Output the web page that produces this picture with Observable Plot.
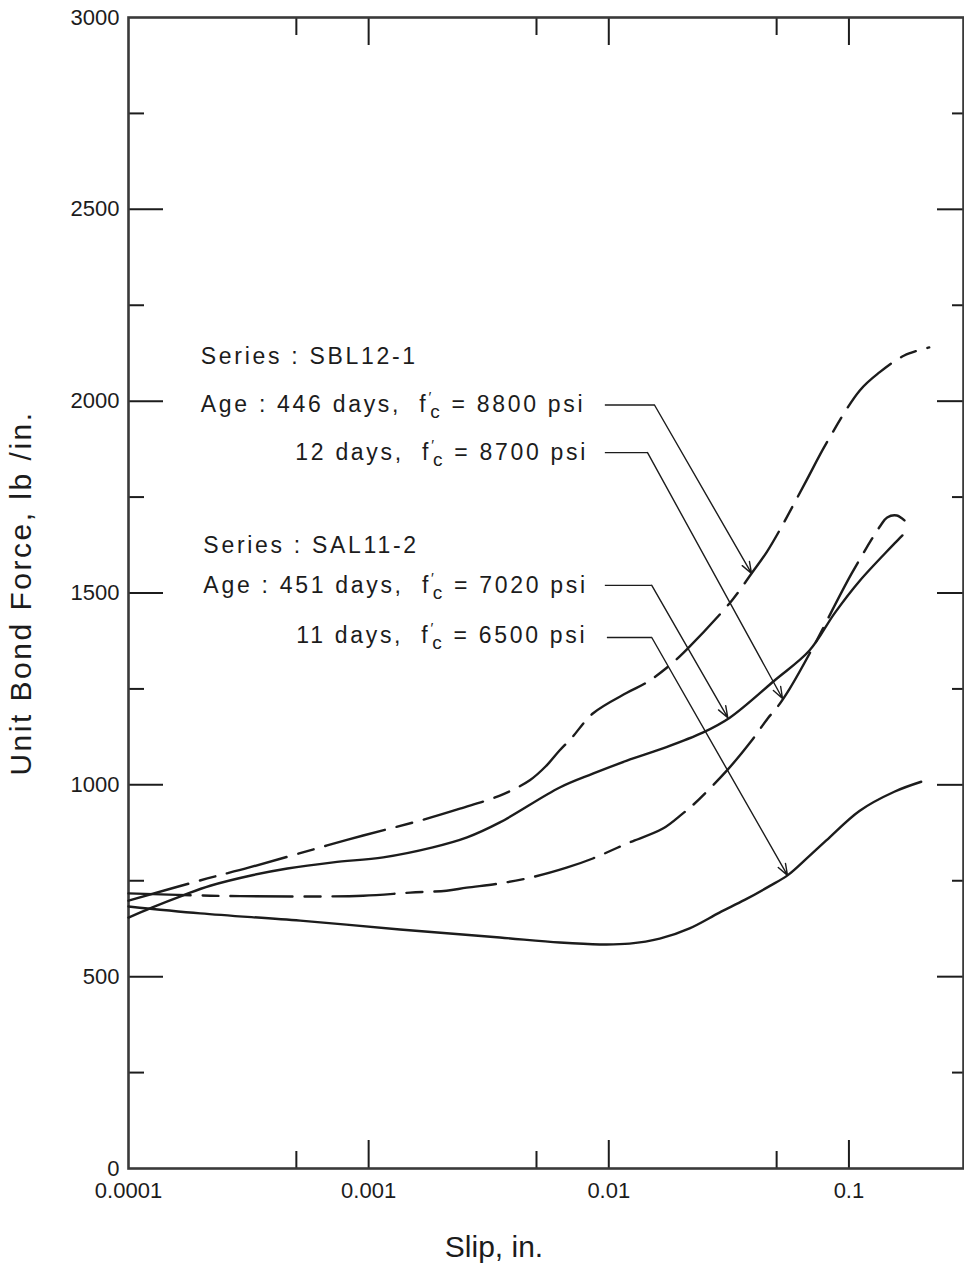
<!DOCTYPE html>
<html>
<head>
<meta charset="utf-8">
<script src="https://cdn.jsdelivr.net/npm/d3@7"></script>
<script src="https://cdn.jsdelivr.net/npm/@observablehq/plot@0.6"></script>
<style>
  html, body { margin: 0; padding: 0; background: #fff; }
</style>
</head>
<body>
<div id="chart"></div>
<script>
// Slip (in.) and unit bond force (lb/in.) along each load–slip curve.
// Series SBL12-1, age 446 days (dashed, upper)
const slipSBL446 = [0.0001, 0.000213, 0.000316, 0.000672, 0.000949, 0.00164, 0.0024, 0.00352, 0.00469, 0.0055, 0.00625, 0.00702, 0.00858, 0.0119, 0.0144, 0.0179, 0.0213, 0.0325, 0.0393, 0.0454, 0.0514, 0.0665, 0.0805, 0.111, 0.134, 0.170, 0.216];
const forceSBL446 = [698, 756, 784, 842, 868, 907, 938, 972, 1012, 1050, 1090, 1123, 1186, 1240, 1267, 1311, 1355, 1480, 1551, 1606, 1663, 1793, 1890, 2028, 2075, 2119, 2140];

// Series SBL12-1, age 12 days (dashed, lower)
const slipSBL12 = [0.0001, 0.000219, 0.000485, 0.000949, 0.00149, 0.00211, 0.00256, 0.00352, 0.00493, 0.00667, 0.00858, 0.0119, 0.0168, 0.0203, 0.0223, 0.031, 0.0393, 0.0459, 0.0501, 0.0567, 0.0708, 0.1027, 0.1355, 0.1443, 0.1583, 0.1703];
const forceSBL12 = [717, 711, 709, 711, 719, 724, 732, 743, 761, 784, 808, 847, 886, 925, 946, 1037, 1115, 1173, 1201, 1251, 1358, 1551, 1676, 1697, 1702, 1689];

// Series SAL11-2, age 451 days (solid, upper)
const slipSAL451 = [0.0001, 0.000125, 0.000169, 0.000219, 0.000331, 0.000459, 0.000712, 0.00115, 0.00185, 0.00257, 0.00352, 0.00625, 0.00858, 0.0119, 0.0168, 0.0246, 0.0319, 0.049, 0.0685, 0.0871, 0.111, 0.167];
const forceSAL451 = [654, 680, 712, 737, 765, 782, 798, 811, 837, 863, 902, 993, 1029, 1063, 1095, 1136, 1175, 1272, 1350, 1447, 1532, 1650];

// Series SAL11-2, age 11 days (solid, lower)
const slipSAL11 = [0.0001, 0.000199, 0.000519, 0.00135, 0.00352, 0.00625, 0.00918, 0.0122, 0.0163, 0.0217, 0.0289, 0.0368, 0.0467, 0.0555, 0.0685, 0.0805, 0.1106, 0.1545, 0.2];
const forceSAL11 = [683, 665, 646, 623, 602, 589, 584, 586, 599, 626, 667, 700, 736, 764, 815, 855, 932, 982, 1008];

// Annotation lines and their anchor points
const noteText = [
  "Series : SBL12-1",
  "Age : 446 days, \u00a0f′c = 8800 psi",
  "12 days, \u00a0f′c = 8700 psi",
  "Series : SAL11-2",
  "Age : 451 days, \u00a0f′c = 7020 psi",
  "11 days, \u00a0f′c = 6500 psi"
];
const noteSlip = [0.0002, 0.0002, 0.000495, 0.000205, 0.000205, 0.0005];
const noteForce = [2115, 1990, 1866, 1624, 1520, 1390];

// Leader lines: horizontal run, bend, then arrow to the curve
const leaderStartSlip = [0.00963, 0.00963, 0.00963, 0.00982];
const leaderBendSlip = [0.0155, 0.0145, 0.0151, 0.0151];
const leaderForce = [1990, 1866, 1520, 1384];
const leaderTipSlip = [0.0393, 0.0529, 0.0313, 0.0555];
const leaderTipForce = [1551, 1225, 1175, 764];

// Axis ticks and labels
const xLabelValues = [0.0001, 0.001, 0.01, 0.1];
const xTickLabels = ["0.0001", "0.001", "0.01", "0.1"];
const xMajorTicks = [0.001, 0.01, 0.1];
const xMinorTicks = [0.0005, 0.005, 0.05];
const yLabelValues = [0, 500, 1000, 1500, 2000, 2500, 3000];
const yTickLabels = ["0", "500", "1000", "1500", "2000", "2500", "3000"];
const yMajorTicks = [500, 1000, 1500, 2000, 2500];
const yMinorTicks = [250, 750, 1250, 1750, 2250, 2750];

const yTitle = "Unit Bond Force, lb /in.";
const xTitle = "Slip, in.";

const ink = "#1c1c1c";
const rows = (xs, ys) => xs.map((x, i) => ({slip: x, force: ys[i]}));
const leaders = leaderForce.map((_, i) => i);
const notes = noteText.map((_, i) => i);
const curveStyle = {x: "slip", y: "force", stroke: ink, strokeWidth: 2.4, curve: "catmull-rom"};
const dashes = "62,12,16,12";

const chart = Plot.plot({
  width: 964,
  height: 1268,
  marginLeft: 128,
  marginRight: 1,
  marginTop: 17,
  marginBottom: 100,
  style: {fontFamily: "'Liberation Sans', Arial, sans-serif", fontSize: "22px", color: ink, background: "#fff"},
  x: {type: "log", domain: [0.0001, 0.3]},
  y: {domain: [0, 3000]},
  marks: [
    // inward tick marks on all four sides
    Plot.axisX(xMajorTicks, {anchor: "bottom", tickSize: 28, dy: -28, color: "none", stroke: ink, strokeWidth: 2}),
    Plot.axisX(xMinorTicks, {anchor: "bottom", tickSize: 17, dy: -17, color: "none", stroke: ink, strokeWidth: 2}),
    Plot.axisX(xMajorTicks, {anchor: "top", tickSize: 27, dy: 27, color: "none", stroke: ink, strokeWidth: 2}),
    Plot.axisX(xMinorTicks, {anchor: "top", tickSize: 17, dy: 17, color: "none", stroke: ink, strokeWidth: 2}),
    Plot.axisY(yMajorTicks, {anchor: "left", tickSize: 35, dx: 35, color: "none", stroke: ink, strokeWidth: 2}),
    Plot.axisY(yMinorTicks, {anchor: "left", tickSize: 16, dx: 16, color: "none", stroke: ink, strokeWidth: 2}),
    Plot.axisY(yMajorTicks, {anchor: "right", tickSize: 27, dx: -27, color: "none", stroke: ink, strokeWidth: 2}),
    Plot.axisY(yMinorTicks, {anchor: "right", tickSize: 12, dx: -12, color: "none", stroke: ink, strokeWidth: 2}),
    // tick labels
    Plot.axisX(xLabelValues, {anchor: "bottom", tickSize: 0, tickPadding: 14, label: null,
      tickFormat: d => xTickLabels[xLabelValues.indexOf(d)]}),
    Plot.axisY(yLabelValues, {anchor: "left", tickSize: 0, tickPadding: 9, label: null,
      tickFormat: d => yTickLabels[yLabelValues.indexOf(d)]}),
    Plot.frame({stroke: "#3a3a3a", strokeWidth: 2.6}),
    // load–slip curves
    Plot.line(rows(slipSBL446, forceSBL446), {...curveStyle, strokeDasharray: dashes}),
    Plot.line(rows(slipSBL12, forceSBL12), {...curveStyle, strokeDasharray: dashes}),
    Plot.line(rows(slipSAL451, forceSAL451), curveStyle),
    Plot.line(rows(slipSAL11, forceSAL11), curveStyle),
    // leader lines from the annotations
    Plot.link(leaders, {
      x1: i => leaderStartSlip[i], x2: i => leaderBendSlip[i],
      y1: i => leaderForce[i], y2: i => leaderForce[i],
      stroke: ink, strokeWidth: 1.4
    }),
    Plot.arrow(leaders, {
      x1: i => leaderBendSlip[i], y1: i => leaderForce[i],
      x2: i => leaderTipSlip[i], y2: i => leaderTipForce[i],
      stroke: ink, strokeWidth: 1.4, headLength: 13, headAngle: 40
    }),
    // annotations
    Plot.text(notes, {
      x: i => noteSlip[i], y: i => noteForce[i], text: i => noteText[i],
      textAnchor: "start", lineAnchor: "middle", fontSize: 23, fill: ink
    }),
    // axis titles
    Plot.text([yTitle], {
      text: d => d, frameAnchor: "left", textAnchor: "middle", lineAnchor: "middle",
      rotate: -90, dx: -107, fontSize: 30, fill: ink
    }),
    Plot.text([xTitle], {
      text: d => d, frameAnchor: "bottom", textAnchor: "middle", lineAnchor: "middle",
      dx: -52, dy: 79, fontSize: 30, fill: ink
    })
  ]
});

document.getElementById("chart").appendChild(chart);

// Set f′c with a raised prime and a subscript c; widen the lettering.
const NS = "http://www.w3.org/2000/svg";
chart.querySelectorAll("text").forEach(t => {
  const s = t.textContent;
  if (s === yTitle) { t.setAttribute("letter-spacing", "2.5"); return; }
  if (!noteText.includes(s)) return;
  t.setAttribute("letter-spacing", "2.7");
  const k = s.indexOf("f′c");
  if (k < 0) return;
  t.textContent = "";
  const part = (str, attrs = {}) => {
    const ts = document.createElementNS(NS, "tspan");
    ts.textContent = str;
    for (const [a, v] of Object.entries(attrs)) ts.setAttribute(a, v);
    t.appendChild(ts);
  };
  part(s.slice(0, k + 1));
  part("′", {dy: -10, "font-size": 15, "letter-spacing": 0});
  part("c", {dx: -1, dy: 16, "font-size": 19});
  part(s.slice(k + 3), {dy: -6});
});
</script>
</body>
</html>
